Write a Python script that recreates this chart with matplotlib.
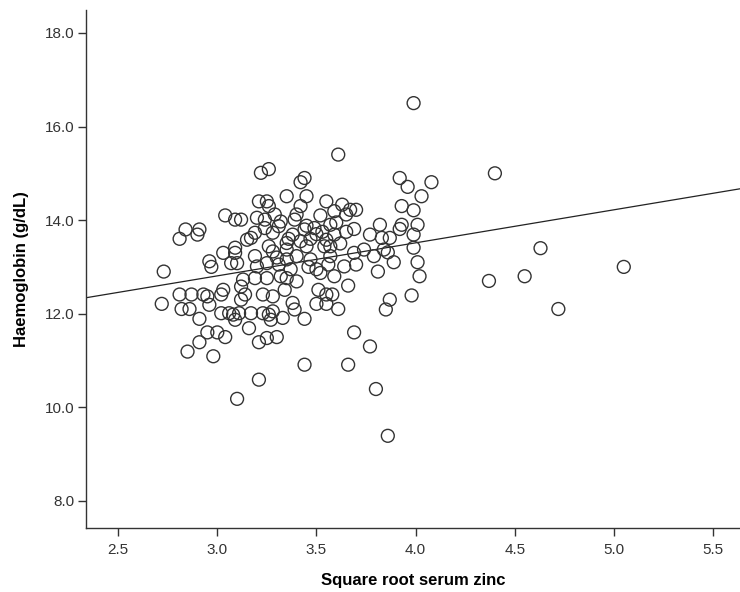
import matplotlib
matplotlib.use("Agg")
import matplotlib.pyplot as plt
import numpy as np

plt.rcParams['font.family'] = ['Liberation Sans', 'DejaVu Sans']

# (sqrt zinc, haemoglobin) points
points = [
    # upper-left dense region
    (3.22, 15.01), (3.26, 15.09), (3.35, 14.51), (3.21, 14.40), (3.25, 14.40),
    (3.04, 14.10), (3.09, 14.01), (3.12, 14.01), (2.84, 13.80), (2.91, 13.80),
    (2.81, 13.60), (2.90, 13.69), (3.17, 13.62), (3.15, 13.58), (3.19, 13.73),
    (3.20, 14.05), (3.24, 14.01), (3.29, 14.12), (3.32, 13.97), (3.31, 13.87),
    (3.24, 13.83), (3.28, 13.73), (3.26, 13.44), (3.28, 13.33), (3.35, 13.51),
    (3.26, 14.30), (3.09, 13.41), (2.96, 13.12),
    # upper-right dense region
    (3.61, 15.40), (3.42, 14.81), (3.44, 14.90), (3.45, 14.51), (3.92, 14.90),
    (3.96, 14.71), (4.08, 14.81), (4.03, 14.51), (3.55, 14.40), (3.63, 14.33),
    (3.42, 14.30), (3.40, 14.12), (3.67, 14.22), (3.70, 14.22), (3.65, 14.12),
    (3.59, 14.19), (3.52, 14.10), (3.93, 14.30), (3.99, 14.21), (3.93, 13.90),
    (4.01, 13.90), (3.82, 13.90), (3.69, 13.81), (3.39, 14.01), (3.45, 13.88),
    (3.49, 13.83), (3.38, 13.69), (3.44, 13.80), (3.57, 13.90), (3.59, 13.69),
    (3.77, 13.69), (3.83, 13.62), (3.87, 13.62), (3.92, 13.81), (3.99, 13.69),
    (3.55, 13.58), (3.35, 13.37), (3.45, 13.44), (3.54, 13.44), (3.57, 13.44),
    (3.74, 13.37), (3.84, 13.37), (3.99, 13.41), (3.69, 13.30), (3.99, 16.50),
    # lower-left region
    (2.73, 12.90), (2.97, 13.00), (3.03, 13.30), (3.09, 13.30), (3.07, 13.08),
    (3.10, 13.08), (3.19, 13.23), (3.20, 13.01), (3.25, 13.08), (3.31, 13.05),
    (3.35, 13.16), (3.13, 12.73), (3.19, 12.76), (3.25, 12.76), (3.32, 12.80),
    (3.12, 12.58), (3.03, 12.51), (2.72, 12.21), (2.81, 12.41), (2.87, 12.41),
    (2.93, 12.41), (2.95, 12.37), (3.02, 12.41), (3.12, 12.30), (3.14, 12.41),
    (3.23, 12.41), (3.28, 12.37), (3.34, 12.51), (2.82, 12.10), (2.86, 12.10),
    (2.96, 12.19), (2.91, 11.89), (3.02, 12.01), (3.06, 12.01), (3.08, 11.98),
    (3.11, 12.01), (3.09, 11.87), (3.17, 12.01), (3.23, 12.01), (3.26, 11.98),
    (3.28, 12.05), (3.27, 11.87), (3.33, 11.91), (3.16, 11.69), (2.95, 11.60),
    (3.00, 11.60), (3.04, 11.50), (2.91, 11.39), (3.21, 11.39), (3.25, 11.48),
    (3.30, 11.50), (2.85, 11.19), (2.98, 11.09),
    # lower-right region
    (3.81, 12.90), (3.89, 13.10), (4.01, 13.10), (4.02, 12.80), (3.66, 12.60),
    (3.51, 12.51), (3.58, 12.41), (3.55, 12.41), (3.50, 12.21), (3.55, 12.21),
    (3.61, 12.10), (3.87, 12.30), (3.85, 12.09), (3.98, 12.39), (3.38, 12.23),
    (3.39, 12.09), (3.44, 11.89), (3.69, 11.60), (3.77, 11.30), (3.44, 10.91),
    (3.66, 10.91), (3.40, 13.23), (3.47, 13.16), (3.57, 13.23), (3.64, 13.01),
    (3.70, 13.05), (3.79, 13.23), (3.86, 13.31), (3.35, 12.76), (3.40, 12.69),
    (3.52, 12.87), (3.59, 12.80),
    # hidden points in the dense core (estimated)
    (3.47, 13.60), (3.50, 13.70), (3.36, 13.60), (3.42, 13.55), (3.53, 13.75),
    (3.30, 13.20), (3.37, 12.95), (3.46, 13.00), (3.50, 12.95), (3.56, 13.05),
    (3.62, 13.50), (3.60, 13.95), (3.65, 13.75),
    # low values
    (3.21, 10.59), (3.10, 10.18), (3.80, 10.39), (3.86, 9.39),
    # right outliers
    (4.40, 15.00), (4.63, 13.40), (5.05, 13.00), (4.55, 12.80), (4.37, 12.70),
    (4.72, 12.10),
]
zinc_sqrt = [p[0] for p in points]
haemoglobin = [p[1] for p in points]

# fit line shown in the chart
fit_slope = 0.706
fit_intercept = 10.69

x_ticks = [2.5, 3.0, 3.5, 4.0, 4.5, 5.0, 5.5]
y_ticks = [8.0, 10.0, 12.0, 14.0, 16.0, 18.0]
x_lim = (2.338, 5.636)
y_lim = (7.42, 18.49)

fig = plt.figure(figsize=(7.4, 5.92), dpi=100)
ax = fig.add_axes([86 / 740, 64 / 592, 654 / 740, 518 / 592])

ax.scatter(zinc_sqrt, haemoglobin, s=86, facecolors='none',
           edgecolors='#333333', linewidths=1.0, zorder=3)

xl = np.array(x_lim)
ax.plot(xl, fit_intercept + fit_slope * xl, color='#222222', lw=0.9, zorder=2)

ax.set_xlim(*x_lim)
ax.set_ylim(*y_lim)
ax.set_xticks(x_ticks)
ax.set_yticks(y_ticks)
ax.set_xticklabels([f"{v:.1f}" for v in x_ticks])
ax.set_yticklabels([f"{v:.1f}" for v in y_ticks])

for side in ['top', 'right']:
    ax.spines[side].set_visible(False)
for side in ['left', 'bottom']:
    ax.spines[side].set_color('#333333')
    ax.spines[side].set_linewidth(1.0)

ax.tick_params(axis='both', direction='out', length=6, width=1.0,
               color='#333333', labelsize=11, labelcolor='#333333', pad=2)
ax.tick_params(axis='x', pad=5)

ax.set_xlabel('Square root serum zinc', fontsize=12, fontweight='bold', labelpad=11)
ax.set_ylabel('Haemoglobin (g/dL)', fontsize=12, fontweight='bold', labelpad=12)

fig.savefig('out.png', dpi=100)
